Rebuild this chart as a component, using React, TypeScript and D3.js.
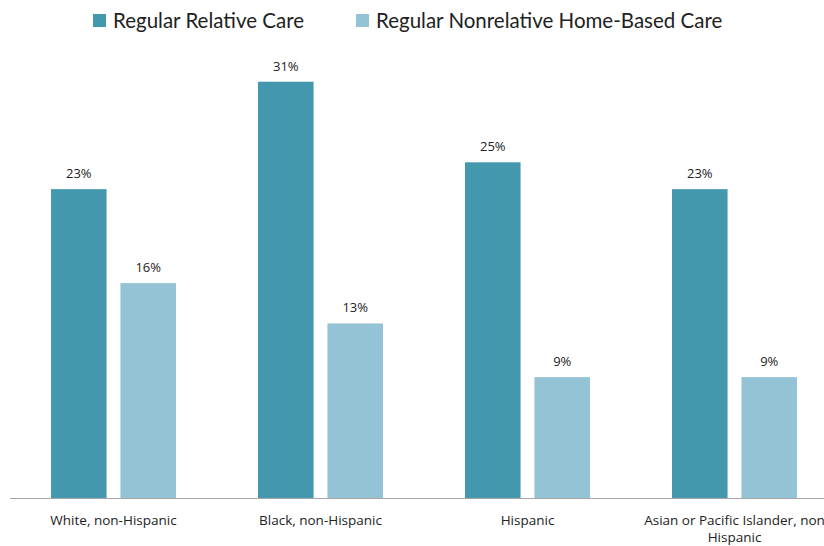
import React from "react";
import * as d3 from "d3";

const categories = [
  ["White, non-Hispanic"],
  ["Black, non-Hispanic"],
  ["Hispanic"],
  ["Asian or Pacific Islander, non", "Hispanic"],
];
const seriesNames = ["Regular Relative Care", "Regular Nonrelative Home-Based Care"];
const relativeCare = [23, 31, 25, 23];
const nonrelativeCare = [16, 13, 9, 9];
const colors = ["#4398AE", "#93C3D4"];

const W = 824;
const H = 546;
const LEGEND_FONT = "Lato, 'Open Sans', sans-serif";
const LABEL_FONT = "'Open Sans', Lato, sans-serif";

export default function App() {
  const x0 = d3
    .scaleBand<number>()
    .domain(categories.map((_, i) => i))
    .range([10, 838])
    .paddingInner(0)
    .paddingOuter(0);
  const x1 = d3
    .scaleBand<number>()
    .domain([0, 1])
    .range([41, 166])
    .paddingInner(0.2);
  const y = d3.scaleLinear().domain([0, 35]).range([498, 28]);
  const series = [relativeCare, nonrelativeCare];

  return (
    <svg
      width={W}
      height={H}
      style={{ position: "absolute", left: 0, top: 0, background: "#fff" }}
    >
      {/* legend */}
      {seriesNames.map((name, s) => {
        const lx = s === 0 ? 93 : 356;
        return (
          <g key={name} transform={`translate(${lx},14)`}>
            <rect width={13} height={13} fill={colors[s]} />
            <text x={20} y={14} fontSize={20.5} fill="#222" fontFamily={LEGEND_FONT}>
              {name}
            </text>
          </g>
        );
      })}

      {/* bars and value labels */}
      {categories.map((_, i) =>
        series.map((vals, s) => {
          const bx = (x0(i) ?? 0) + (x1(s) ?? 0);
          const bw = x1.bandwidth();
          return (
            <g key={`${i}-${s}`}>
              <rect
                x={bx}
                y={y(vals[i])}
                width={bw}
                height={y(0) - y(vals[i])}
                fill={colors[s]}
              />
              <text
                x={bx + bw / 2}
                y={y(vals[i]) - 11}
                textAnchor="middle"
                fontSize={13}
                fill="#222"
                fontFamily={LABEL_FONT}
              >
                {`${vals[i]}%`}
              </text>
            </g>
          );
        })
      )}

      {/* baseline */}
      <line x1={10} x2={W} y1={498.5} y2={498.5} stroke="#A6A6A6" strokeWidth={1} />

      {/* category labels */}
      {categories.map((lines, i) => {
        const cx = (x0(i) ?? 0) + x0.bandwidth() / 2;
        return (
          <text
            key={i}
            x={cx}
            y={525}
            textAnchor="middle"
            fontSize={13.5}
            fill="#222"
            fontFamily={LABEL_FONT}
          >
            {lines.map((ln, k) => (
              <tspan key={k} x={cx} dy={k === 0 ? 0 : 17}>
                {ln}
              </tspan>
            ))}
          </text>
        );
      })}
    </svg>
  );
}
